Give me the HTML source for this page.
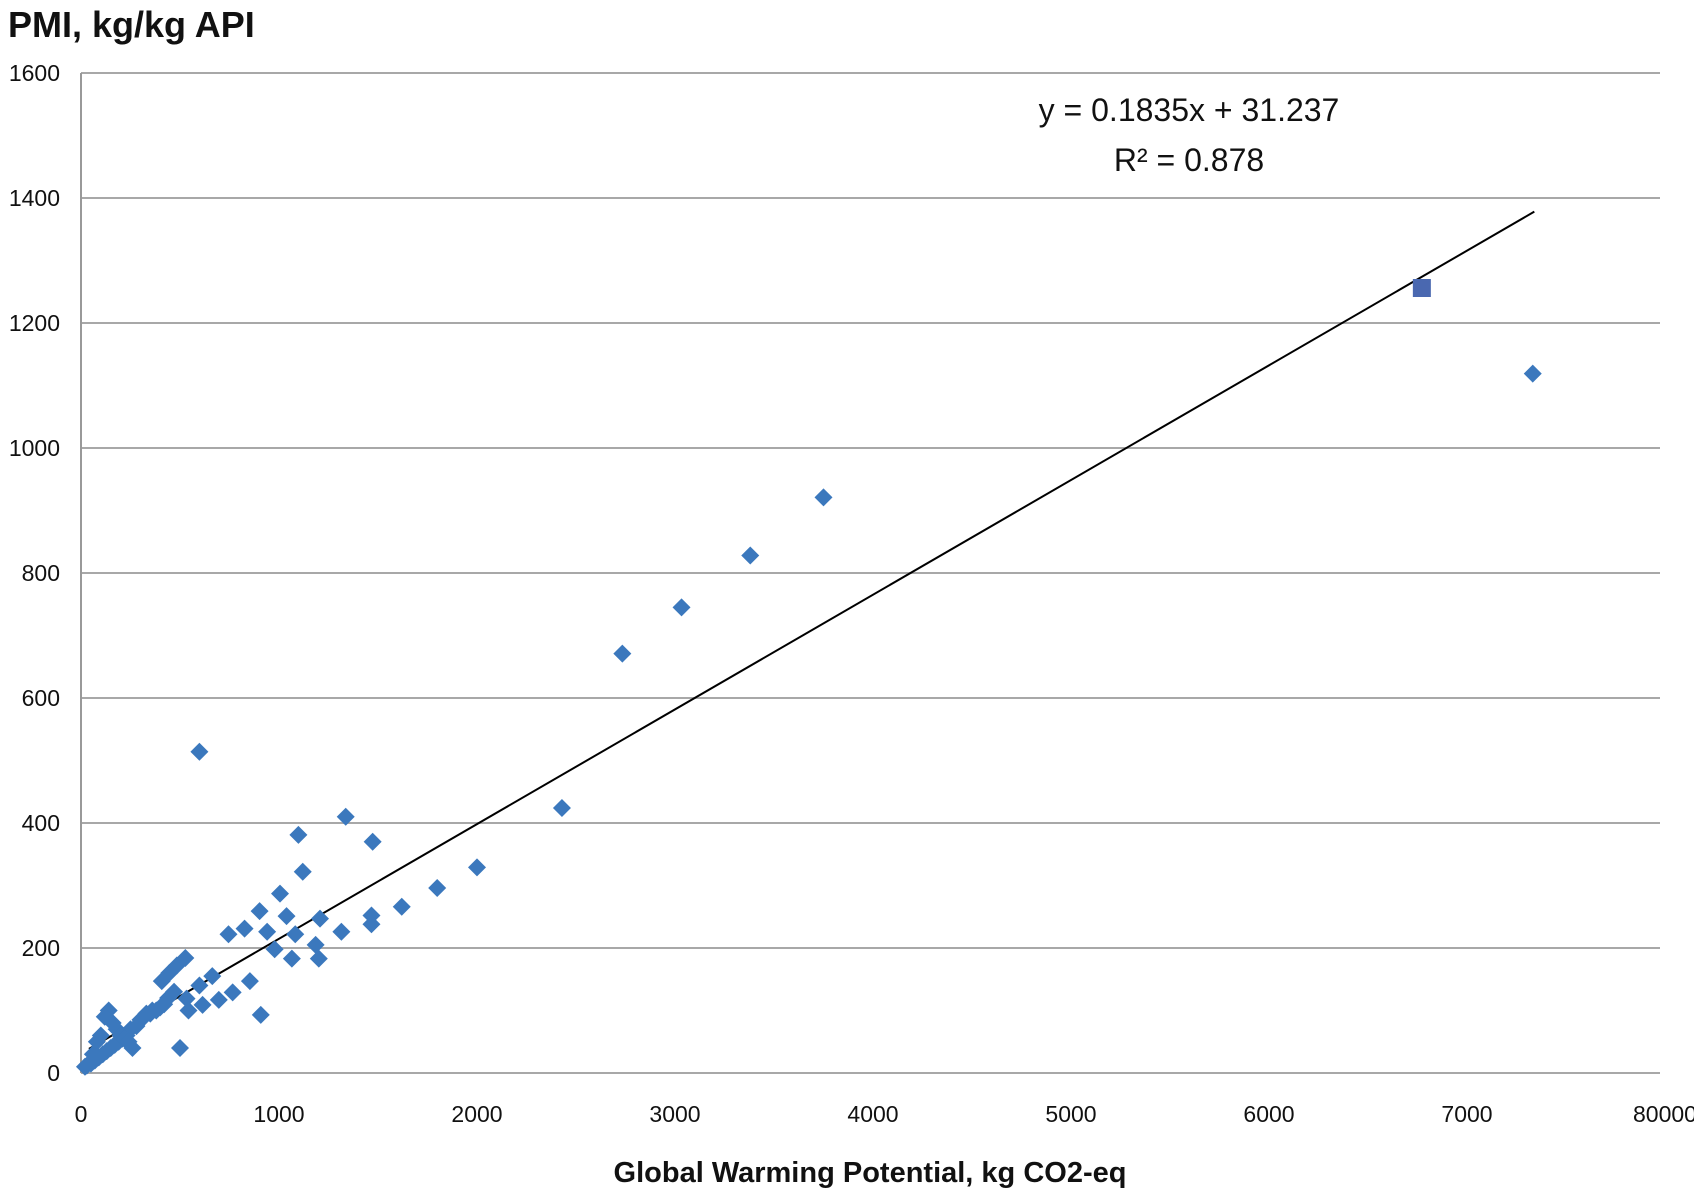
<!DOCTYPE html>
<html><head><meta charset="utf-8"><style>
html,body{margin:0;padding:0;background:#fff;}
svg{display:block;font-family:"Liberation Sans",sans-serif;}
</style></head><body>
<svg id="chart" width="1694" height="1195" viewBox="0 0 1694 1195">
<text x="8" y="37" font-size="36" font-weight="bold" fill="#111">PMI, kg/kg API</text>
<text x="870" y="1182" font-size="29" font-weight="bold" fill="#111" text-anchor="middle">Global Warming Potential, kg CO2-eq</text>
<g id="grid"></g><g id="axes"></g><g id="trend"></g><g id="points"></g>
<text x="1189" y="121" font-size="32" fill="#111" text-anchor="middle">y = 0.1835x + 31.237</text>
<text x="1189" y="171" font-size="32" fill="#111" text-anchor="middle">R² = 0.878</text>
</svg>
<script>
const yTicks=[0,200,400,600,800,1000,1200,1400,1600];
const xTicks=[0,1000,2000,3000,4000,5000,6000,7000,8000];
const xTickLabels=["0","1000","2000","3000","4000","5000","6000","7000","80000"];
const gwpValues=[7332,3750,3380,3033,2734,2429,2000,1799,1620,1473,1337,1098,1120,598,1005,902,1038,1207,1467,1467,1315,940,1082,745,826,1185,978,1201,1065,853,766,908,500,663,598,533,408,446,484,527,543,614,696,440,470,360,330,300,280,250,230,210,190,170,150,130,110,90,70,50,30,20,140,160,180,200,220,240,260,120,100,80,60,320,350,380,400,420];
const pmiValues=[1119,921,828,745,671,424,329,296,266,370,410,381,322,514,287,259,251,247,252,238,226,226,222,222,231,205,198,183,183,147,129,93,40,155,140,119,147,160,172,184,100,109,117,120,130,100,95,85,75,70,60,55,50,45,40,35,30,25,20,15,12,10,100,80,70,60,55,50,40,90,60,50,30,90,95,100,105,110];
const squareX=[6772];
const squareY=[1256];
const slope=0.1835, intercept=31.237, fitXStart=40, fitXEnd=7340;
const X0=81,XW=198, Y0=1073, YH=125/200;
const sx=v=>X0+v/1000*XW, sy=v=>Y0-v*YH;
const NS="http://www.w3.org/2000/svg";
function mk(t,a,p){const e=document.createElementNS(NS,t);for(const k in a)e.setAttribute(k,a[k]);p.appendChild(e);return e;}
const grid=document.getElementById('grid'),axes=document.getElementById('axes');
yTicks.forEach(v=>{
 const l=mk('line',{x1:X0,x2:1660,y1:sy(v),y2:sy(v),stroke:'#a8a8a8','stroke-width':2},grid);
 
 
 const t=mk('text',{x:60,y:sy(v)+8,'font-size':23,'text-anchor':'end',fill:'#111'},axes);
 t.textContent=v;
 
 
});
xTicks.forEach((v,i)=>{
 const t=mk('text',{x:sx(v),y:1122,'font-size':23,'text-anchor':'middle',fill:'#111'},axes);
 t.textContent=xTickLabels[i];
 
 
});
const ax=mk('line',{x1:X0,x2:X0,y1:sy(1600),y2:Y0,stroke:'#999','stroke-width':2},axes);


const tl=mk('line',{x1:sx(fitXStart),y1:sy(slope*fitXStart+intercept),x2:sx(fitXEnd),y2:sy(slope*fitXEnd+intercept),stroke:'#000','stroke-width':2},document.getElementById('trend'));


const pg=document.getElementById('points');
gwpValues.forEach((x,i)=>{
 const cx=sx(x),cy=sy(pmiValues[i]),r=9;
 const p=mk('polygon',{points:`${cx},${cy-r} ${cx+r},${cy} ${cx},${cy+r} ${cx-r},${cy}`,fill:'#3b78bd'},pg);
 
 
});
squareX.forEach((x,i)=>{
 const s=mk('rect',{x:sx(x)-9,y:sy(squareY[i])-9,width:18,height:18,fill:'#4a68b0'},pg);
 
 
});
</script>
</body></html>
